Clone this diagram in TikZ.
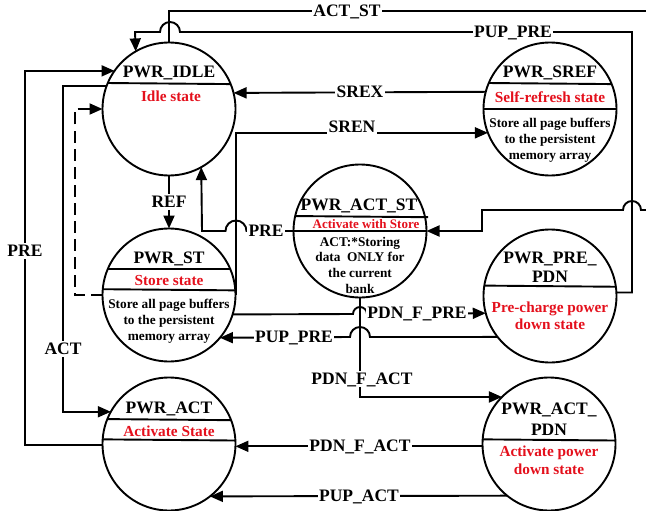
\documentclass[tikz,border=0pt]{standalone}
\usepackage{fontspec}
\setmainfont{Liberation Serif}
\usetikzlibrary{arrows.meta}
\definecolor{sred}{RGB}{228,16,28}
\newcommand{\dgTitle}{\fontsize{17.5}{19}\selectfont\bfseries}
\newcommand{\dgRed}{\fontsize{15.3}{17}\selectfont\bfseries\color{sred}}
\newcommand{\dgRedS}{\fontsize{13}{15}\selectfont\bfseries\color{sred}}
\newcommand{\dgBody}{\fontsize{13.3}{16}\selectfont\bfseries}
\tikzset{
  stnode/.style={circle,draw,line width=1.9pt,minimum size=133pt,inner sep=0pt,outer sep=0pt},
  conn/.style={line width=1.9pt},
  arr/.style={conn,-{Triangle[length=13pt,width=11pt]}},
  chord/.style={line width=1.9pt},
  lab/.style={fill=white,inner sep=1.5pt,font=\dgTitle,text height=12.6pt,text depth=1pt},
  ttl/.style={inner sep=0pt,font=\dgTitle,text height=12.6pt,text depth=1pt},
  rtx/.style={inner sep=0pt,font=\dgRed,text height=11pt,text depth=0.9pt},
  rts/.style={inner sep=0pt,font=\dgRedS,text height=9.4pt,text depth=0.8pt},
  btx/.style={inner sep=0pt,font=\dgBody,text height=9.6pt,text depth=0.8pt},
}
\begin{document}
\begin{tikzpicture}[x=1pt,y=-1pt]
\useasboundingbox (0,0) rectangle (646,511);
% states
\node[stnode] (idle) at (169,109) {};
\node[stnode] (sref) at (550,109) {};
\node[stnode] (pst) at (169,295) {};
\node[stnode] (actst) at (360,231) {};
\node[stnode] (prepdn) at (550,296) {};
\node[stnode] (act) at (169,444) {};
\node[stnode] (actpdn) at (549,444) {};
% chords
\draw[chord] (idle.157.9) -- (idle.22.1);
\draw[chord] (sref.157.9) -- (sref.22.1);
\draw[chord] (sref.west) -- (sref.east);
\draw[chord] (pst.157) -- (pst.23);
\draw[chord] (pst.175.7) -- (pst.4.3);
\draw[chord] (actst.167.8) -- (actst.12.2) -- ++(3,0);
\draw[chord] (actst.west) -- (actst.east);
\draw[chord] (prepdn.171.4) -- (prepdn.8.6);
\draw[chord] (act.158.8) -- (act.21.2);
\draw[chord] (act.176.6) -- (act.3.4);
\draw[chord] (actpdn.176.6) -- (actpdn.3.4);
% texts
\node[ttl] (idleN) at (169,72) {PWR\_IDLE};
\node[rtx] (idleD) at (171,96) {Idle state};
\node[ttl] (srefN) at (550,72) {PWR\_SREF};
\node[rtx] (srefD) at (550,97) {Self-refresh state};
\node[btx] (srefB1) at (550,123) {Store all page buffers};
\node[btx] (srefB2) at (550,139) {to the persistent};
\node[btx] (srefB3) at (550,155) {memory array};
\node[ttl] (pstN) at (169,258) {PWR\_ST};
\node[rtx] (pstD) at (169,280) {Store state};
\node[btx] (pstB1) at (169,304) {Store all page buffers};
\node[btx] (pstB2) at (169,320) {to the persistent};
\node[btx] (pstB3) at (169,336) {memory array};
\node[ttl] (actstN) at (359,205) {PWR\_ACT\_ST};
\node[rts] (actstD) at (366,224) {Activate with Store};
\node[btx] (actstB1) at (360,242) {ACT:*Storing};
\node[btx] (actstB2) at (360,257) {data\ \ ONLY for};
\node[btx] (actstB3) at (360,273) {the current};
\node[btx] (actstB4) at (360,289) {bank};
\node[ttl] (prepdnN1) at (550,258) {PWR\_PRE\_};
\node[ttl] (prepdnN2) at (550,277) {PDN};
\node[rtx] (prepdnD1) at (550,307) {Pre-charge power};
\node[rtx] (prepdnD2) at (550,324) {down state};
\node[ttl] (actN) at (169,408) {PWR\_ACT};
\node[rtx] (actD) at (169,431) {Activate State};
\node[ttl] (actpdnN1) at (549,409) {PWR\_ACT\_};
\node[ttl] (actpdnN2) at (549,430) {PDN};
\node[rtx] (actpdnD1) at (549,451) {Activate power};
\node[rtx] (actpdnD2) at (549,469) {down state};
% connectors
\draw[arr] (idle.north) -- (169,11) -- (650,11) -- (650,210) -- (641,210)
  arc[start angle=0,end angle=180,radius=9pt] -- (482,210) |- (actst.east);
\draw[arr] (prepdn.3) -| (632,32) -- (180,32)
  arc[start angle=0,end angle=180,radius=10pt] -- (135,32) -- (idle.120.7);
\draw[arr] (sref.165.2) -- (idle.14.8);
\draw[arr] ([xshift=0.5pt]pst.east) |- (sref.201.2);
\draw[arr] (idle.south) -- (pst.north);
\draw[arr,dash pattern=on 12pt off 6pt] (pst.west) -- (75,295) -- (75,109) -- (idle.west);
\draw[arr] (idle.160.7) -| (63,250) |- (act.151.2);
\draw[arr] (act.181.7) -| (25,250) |- (idle.145.2);
\draw[arr] (actst.west) -- (246.5,231)
  arc[start angle=0,end angle=180,radius=10.5pt] -- (202,231) -- (idle.299.75);
\draw[arr] (prepdn.218.1) -- (370,337)
  arc[start angle=0,end angle=180,radius=10pt] -- (pst.320.8);
\draw[arr] (pst.343.4) -- (353,314)
  arc[start angle=180,end angle=0,radius=7pt] -- (prepdn.195.7);
\draw[arr] (actst.south) |- (actpdn.135);
\draw[arr] (actpdn.182) -- (act.358);
\draw[arr] (actpdn.231.4) -- (act.308.6);
% labels
\node[lab] (lACTST) at (347,11) {ACT\_ST};
\node[lab] (lPUP1) at (513,32) {PUP\_PRE};
\node[lab] (lSREX) at (360,92) {SREX};
\node[lab] (lSREN) at (352,127) {SREN};
\node[lab] (lREF) at (169,202) {REF};
\node[lab] (lPRE2) at (266,231) {PRE};
\node[lab] (lPUP2) at (294,337) {PUP\_PRE};
\node[lab] (lPDNFPRE) at (417,313) {PDN\_F\_PRE};
\node[lab] (lPDNFACT1) at (362,379) {PDN\_F\_ACT};
\node[lab] (lPDNFACT2) at (360,446) {PDN\_F\_ACT};
\node[lab] (lPUPACT) at (359,496) {PUP\_ACT};
\node[lab] (lPRE1) at (25,251) {PRE};
\node[lab] (lACT) at (63,349) {ACT};
\end{tikzpicture}
\end{document}
